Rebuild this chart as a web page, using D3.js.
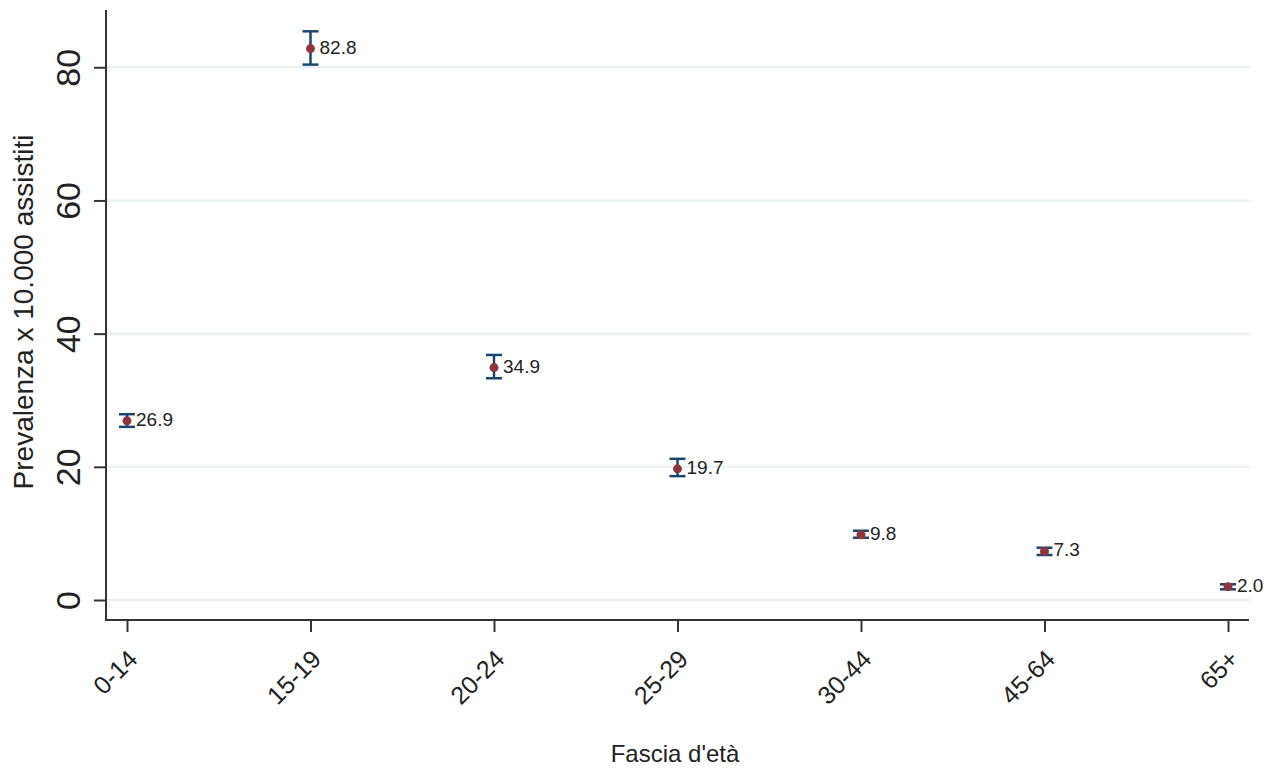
<!DOCTYPE html>
<html><head><meta charset="utf-8">
<script src="https://cdn.jsdelivr.net/npm/d3@7"></script>
<style>body{margin:0;background:#fff}svg{display:block}text{font-family:"Liberation Sans",Arial,sans-serif;fill:#222}</style>
</head><body><svg id="c" width="1279" height="771"></svg>
<script>
const categories = ["0-14","15-19","20-24","25-29","30-44","45-64","65+"];
const values = [26.9, 82.8, 34.9, 19.7, 9.8, 7.3, 2.0];
const lower = [26.0, 80.4, 33.3, 18.6, 9.35, 6.76, 1.6];
const upper = [27.9, 85.4, 36.8, 21.2, 10.4, 7.85, 2.36];
const yTicks = [0, 20, 40, 60, 80];

const svg = d3.select("#c");
const x = d3.scalePoint().domain(categories).range([127, 1228]);
const y = d3.scaleLinear().domain([0, 88.6]).range([600, 10]);

// gridlines
svg.append("g").selectAll("line").data(yTicks).join("line")
  .attr("x1", 107).attr("x2", 1250).attr("y1", d => y(d)).attr("y2", d => y(d))
  .attr("stroke", "#e8eff1").attr("stroke-width", 2);

// y axis
const ya = svg.append("g").attr("transform", "translate(106,0)")
  .call(d3.axisLeft(y).tickValues(yTicks).tickSize(12).tickSizeOuter(0));
ya.select(".domain").attr("d", "M0,10V621").attr("stroke", "#333").attr("stroke-width", 2);
ya.selectAll(".tick line").attr("stroke", "#333").attr("stroke-width", 2);
ya.selectAll(".tick text").attr("font-size", 34).attr("fill", "#222")
  .attr("text-anchor", "middle").attr("dominant-baseline", "central")
  .attr("x", 0).attr("y", 0).attr("dy", 0)
  .attr("transform", "translate(-38,0) rotate(-90)");

// x axis
const xa = svg.append("g").attr("transform", "translate(0,620)")
  .call(d3.axisBottom(x).tickSize(12).tickSizeOuter(0));
xa.select(".domain").attr("d", "M105,0H1249").attr("stroke", "#333").attr("stroke-width", 2);
xa.selectAll(".tick line").attr("stroke", "#333").attr("stroke-width", 2);
xa.selectAll(".tick text").attr("font-size", 25).attr("fill", "#222")
  .attr("text-anchor", "end").attr("dy", 0).attr("y", 0).attr("x", 0)
  .attr("transform", "translate(7,36) rotate(-45)")
  .attr("dominant-baseline", "middle");

// axis titles
svg.append("text").attr("transform", `translate(33,312) rotate(-90)`)
  .attr("text-anchor", "middle").attr("font-size", 28).text("Prevalenza x 10.000 assistiti");
svg.append("text").attr("x", 675).attr("y", 762).attr("text-anchor", "middle")
  .attr("font-size", 24).text("Fascia d'età");

// error bars
const data = categories.map((c, i) => ({c, v: values[i], lo: lower[i], hi: upper[i]}));
const eb = svg.append("g").attr("stroke", "#1a476f").attr("stroke-width", 2.5).attr("fill", "none");
eb.selectAll(".v").data(data).join("line")
  .attr("x1", d => x(d.c)).attr("x2", d => x(d.c)).attr("y1", d => y(d.lo)).attr("y2", d => y(d.hi));
eb.selectAll(".t").data(data).join("line")
  .attr("x1", d => x(d.c) - 8).attr("x2", d => x(d.c) + 8).attr("y1", d => y(d.hi)).attr("y2", d => y(d.hi));
eb.selectAll(".b").data(data).join("line")
  .attr("x1", d => x(d.c) - 8).attr("x2", d => x(d.c) + 8).attr("y1", d => y(d.lo)).attr("y2", d => y(d.lo));

// markers
svg.append("g").selectAll("circle").data(data).join("circle")
  .attr("cx", d => x(d.c)).attr("cy", d => y(d.v)).attr("r", 4.5).attr("fill", "#90353b");

// labels
svg.append("g").selectAll("text").data(data).join("text")
  .attr("x", d => x(d.c) + 9).attr("y", d => y(d.v)).attr("dominant-baseline", "middle")
  .attr("font-size", 19).text(d => d.v.toFixed(1));
</script></body></html>
